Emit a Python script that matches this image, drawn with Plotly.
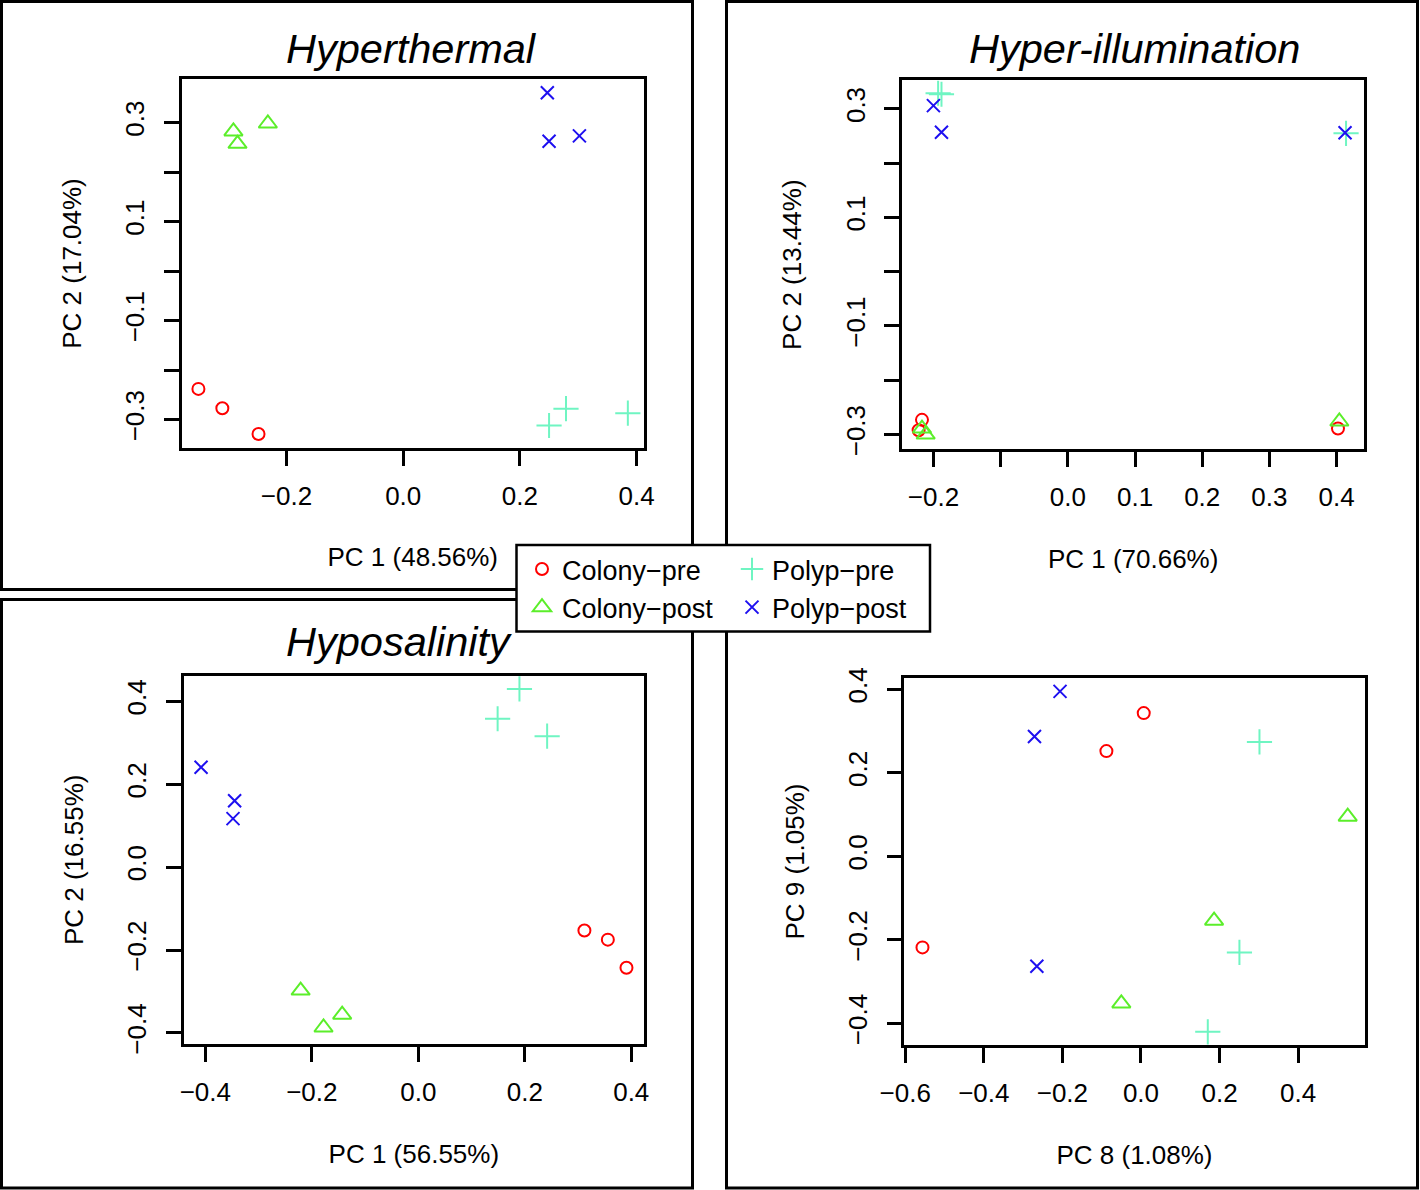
import plotly.graph_objects as go

# ---------------- data ----------------
groups = ["Colony−pre", "Colony−post", "Polyp−pre", "Polyp−post"]
colors = ["#FF0000", "#5BEE2A", "#6FF5C2", "#1E10F0"]
symbols = ["circle-open", "triangle-up-open", "cross-thin-open", "x-thin-open"]

panel_titles = ["Hyperthermal", "Hyper-illumination", "Hyposalinity", ""]
x_titles = ["PC 1 (48.56%)", "PC 1 (70.66%)", "PC 1 (56.55%)", "PC 8 (1.08%)"]
y_titles = ["PC 2 (17.04%)", "PC 2 (13.44%)", "PC 2 (16.55%)", "PC 9 (1.05%)"]

# Hyperthermal (per group: Colony-pre, Colony-post, Polyp-pre, Polyp-post)
ht_x = [[-0.351, -0.310, -0.248], [-0.291, -0.284, -0.232], [0.250, 0.279, 0.385], [0.247, 0.250, 0.302]]
ht_y = [[-0.238, -0.277, -0.329], [0.282, 0.257, 0.298], [-0.312, -0.278, -0.287], [0.360, 0.262, 0.273]]

# Hyper-illumination
hi_x = [[-0.217, -0.222, 0.402], [-0.217, -0.2115, 0.404], [-0.193, -0.188, 0.414], [-0.200, -0.188, 0.4125]]
hi_y = [[-0.273, -0.292, -0.289], [-0.289, -0.300, -0.276], [0.329, 0.327, 0.255], [0.306, 0.257, 0.256]]

# Hyposalinity
hs_x = [[0.312, 0.356, 0.391], [-0.221, -0.178, -0.143], [0.149, 0.190, 0.242], [-0.408, -0.345, -0.348]]
hs_y = [[-0.153, -0.175, -0.243], [-0.298, -0.387, -0.356], [0.358, 0.430, 0.316], [0.241, 0.160, 0.117]]

# PC8 / PC9
p8_x = [[-0.556, -0.088, 0.007], [0.526, 0.186, -0.050], [0.3015, 0.2505, 0.170], [-0.206, -0.271, -0.265]]
p8_y = [[-0.218, 0.252, 0.343], [0.095, -0.154, -0.352], [0.274, -0.230, -0.420], [0.395, 0.287, -0.263]]

# tick values / labels
ht_xticks = [-0.2, 0.0, 0.2, 0.4]
ht_xlabels = ["−0.2", "0.0", "0.2", "0.4"]
ht_yticks = [-0.3, -0.2, -0.1, 0.0, 0.1, 0.2, 0.3]
ht_ylabels = ["−0.3", "", "−0.1", "", "0.1", "", "0.3"]

hi_xticks = [-0.2, -0.1, 0.0, 0.1, 0.2, 0.3, 0.4]
hi_xlabels = ["−0.2", "", "0.0", "0.1", "0.2", "0.3", "0.4"]
hi_yticks = [-0.3, -0.2, -0.1, 0.0, 0.1, 0.2, 0.3]
hi_ylabels = ["−0.3", "", "−0.1", "", "0.1", "", "0.3"]

hs_xticks = [-0.4, -0.2, 0.0, 0.2, 0.4]
hs_xlabels = ["−0.4", "−0.2", "0.0", "0.2", "0.4"]
hs_yticks = [-0.4, -0.2, 0.0, 0.2, 0.4]
hs_ylabels = ["−0.4", "−0.2", "0.0", "0.2", "0.4"]

p8_xticks = [-0.6, -0.4, -0.2, 0.0, 0.2, 0.4]
p8_xlabels = ["−0.6", "−0.4", "−0.2", "0.0", "0.2", "0.4"]
p8_yticks = [-0.4, -0.2, 0.0, 0.2, 0.4]
p8_ylabels = ["−0.4", "−0.2", "0.0", "0.2", "0.4"]

# ---------------- layout helpers ----------------
W, H = 1420, 1190
FONT = "Liberation Sans, Arial, Helvetica, sans-serif"
marker_sizes = [12, 16, 18, 13]


def fx(px):
    return px / W


def fy(py):
    return 1 - py / H


panels = [
    dict(x=ht_x, y=ht_y, xt=ht_xticks, xl=ht_xlabels, yt=ht_yticks, yl=ht_ylabels,
         box=(181.5, 644.0, 79.2, 447.8), xr=[-0.380, 0.4127], yr=[-0.357, 0.3875]),
    dict(x=hi_x, y=hi_y, xt=hi_xticks, xl=hi_xlabels, yt=hi_yticks, yl=hi_ylabels,
         box=(902.1, 1364.2, 80.4, 448.9), xr=[-0.2466, 0.441], yr=[-0.3265, 0.3525]),
    dict(x=hs_x, y=hs_y, xt=hs_xticks, xl=hs_xlabels, yt=hs_yticks, yl=hs_ylabels,
         box=(183.5, 644.2, 675.7, 1043.9), xr=[-0.441, 0.4243], yr=[-0.4266, 0.4619]),
    dict(x=p8_x, y=p8_y, xt=p8_xticks, xl=p8_xlabels, yt=p8_yticks, yl=p8_ylabels,
         box=(904.4, 1364.6, 677.6, 1045.4), xr=[-0.602, 0.569], yr=[-0.4526, 0.428]),
]

fig = go.Figure()
layout = {}

for i, p in enumerate(panels):
    k = "" if i == 0 else str(i + 1)
    for g in range(4):
        fig.add_trace(go.Scatter(
            x=p["x"][g], y=p["y"][g], mode="markers",
            name=groups[g],
            legend="legend" if g < 2 else "legend2",
            showlegend=(i == 0),
            marker=dict(symbol=symbols[g], size=marker_sizes[g], color=colors[g],
                        line=dict(width=2, color=colors[g])),
            xaxis="x" + k, yaxis="y" + k,
        ))
    x0, x1, y0, y1 = p["box"]
    common = dict(showline=True, linecolor="black", linewidth=2.5, mirror=True,
                  ticks="outside", ticklen=15, tickwidth=2.5, tickcolor="black",
                  showgrid=False, zeroline=False, automargin=False,
                  tickfont=dict(family=FONT, size=26, color="black"))
    layout["xaxis" + k] = dict(
        domain=[fx(x0), fx(x1)], range=p["xr"], tickmode="array",
        tickvals=p["xt"], ticktext=p["xl"], anchor="y" + k,
        ticklabelstandoff=8,
        title=dict(text=x_titles[i], standoff=39, font=dict(family=FONT, size=26, color="black")),
        **common)
    layout["yaxis" + k] = dict(
        domain=[fy(y1), fy(y0)], range=p["yr"], tickmode="array",
        tickvals=p["yt"], ticktext=p["yl"], anchor="x" + k, tickangle=-90,
        ticklabelstandoff=9,
        title=dict(text=y_titles[i], standoff=32, font=dict(family=FONT, size=26, color="black")),
        **common)

fig.update_layout(**layout)

# panel titles
title_pos = [(411, 49), (1134, 49), (399, 641)]
annotations = []
for t, (tx, ty) in zip(panel_titles[:3], title_pos):
    annotations.append(dict(text=t, x=fx(tx), y=fy(ty), xref="paper", yref="paper",
                            xanchor="center", yanchor="middle", showarrow=False,
                            font=dict(family=FONT, size=41.5, color="black", style="italic")))

# figure frames and legend box
frame = dict(type="rect", xref="paper", yref="paper", line=dict(color="black", width=3),
             fillcolor="rgba(0,0,0,0)", layer="above")
shapes = [
    dict(frame, x0=fx(1.5), x1=fx(692.5), y0=fy(589.5), y1=fy(1.5)),
    dict(frame, x0=fx(1.5), x1=fx(692.5), y0=fy(1188), y1=fy(599.5)),
    dict(frame, x0=fx(726.5), x1=fx(1417.5), y0=fy(1188), y1=fy(1.5)),
    dict(type="rect", xref="paper", yref="paper", x0=fx(516.5), x1=fx(930), y0=fy(631.5), y1=fy(545),
         line=dict(color="black", width=2.5), fillcolor="white", layer="above"),
]

legend_common = dict(bgcolor="rgba(0,0,0,0)", borderwidth=0, orientation="v",
                     xanchor="left", yanchor="top", tracegroupgap=0,
                     font=dict(family=FONT, size=27, color="black"), itemclick=False)

fig.update_layout(
    width=W, height=H, margin=dict(l=0, r=0, t=0, b=0, autoexpand=False),
    paper_bgcolor="white", plot_bgcolor="white",
    annotations=annotations, shapes=shapes,
    legend=dict(legend_common, x=fx(522), y=fy(545)),
    legend2=dict(legend_common, x=fx(732), y=fy(545)),
)

fig.write_html("out.html", config={"displayModeBar": False},
               post_script="document.body.style.margin='0px';")
